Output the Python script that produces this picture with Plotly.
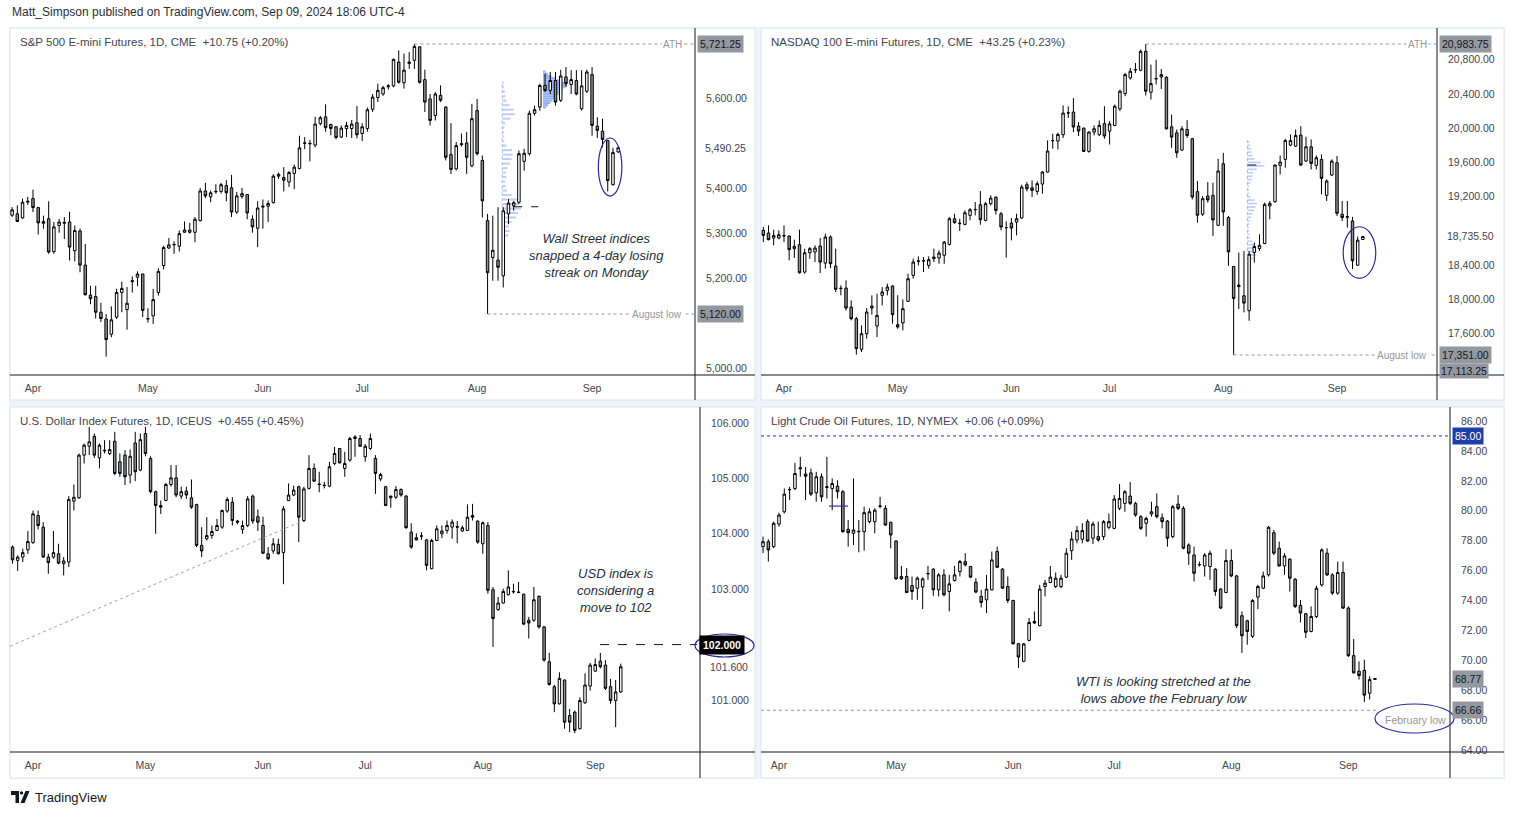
import pandas as pd
import plotly.graph_objects as go

W, H = 1514, 815          # reference pixel frame used for all placements
FIG_H = 819               # the capture squeezes the page height slightly; compensate

# ---------------- calendars ----------------
cme_holidays = ["2024-03-29", "2024-05-27", "2024-06-19", "2024-07-04", "2024-09-02"]
ice_holidays = ["2024-03-29"]
cme_dates = [d for d in pd.bdate_range("2024-03-25", "2024-09-10") if d.strftime("%Y-%m-%d") not in cme_holidays]
ice_dates = [d for d in pd.bdate_range("2024-03-25", "2024-09-09") if d.strftime("%Y-%m-%d") not in ice_holidays]
months = ["Apr", "May", "Jun", "Jul", "Aug", "Sep"]

# ---------------- S&P 500 E-mini (ES) ----------------
es_open = [5340, 5343, 5334, 5369, 5377, 5357, 5322, 5332, 5259, 5317,
           5322, 5325, 5261, 5305, 5229, 5162, 5159, 5124, 5109, 5075,
           5113, 5168, 5130, 5192, 5202, 5209, 5110, 5116, 5168, 5228,
           5267, 5274, 5271, 5302, 5302, 5302, 5328, 5394, 5381, 5392,
           5393, 5406, 5401, 5347, 5382, 5386, 5331, 5311, 5358, 5360,
           5368, 5427, 5424, 5414, 5433, 5444, 5500, 5499, 5496, 5544,
           5559, 5542, 5537, 5514, 5533, 5533, 5546, 5522, 5533, 5576,
           5602, 5610, 5626, 5628, 5681, 5635, 5678, 5685, 5715, 5642,
           5599, 5562, 5607, 5581, 5475, 5443, 5497, 5501, 5450, 5573,
           5462, 5328, 5246, 5240, 5205, 5343, 5361, 5369, 5460, 5477,
           5567, 5581, 5629, 5618, 5640, 5596, 5648, 5631, 5640, 5577,
           5616, 5653, 5538, 5527, 5506, 5408, 5481]
es_high = [5358, 5362, 5377, 5381, 5397, 5358, 5339, 5371, 5325, 5332,
           5336, 5348, 5317, 5310, 5276, 5183, 5183, 5145, 5120, 5137,
           5176, 5192, 5180, 5204, 5215, 5210, 5133, 5176, 5222, 5272,
           5289, 5282, 5306, 5326, 5323, 5336, 5401, 5412, 5395, 5409,
           5412, 5418, 5430, 5392, 5401, 5387, 5340, 5371, 5375, 5373,
           5431, 5435, 5447, 5438, 5453, 5517, 5514, 5508, 5559, 5561,
           5587, 5544, 5538, 5540, 5548, 5552, 5583, 5545, 5580, 5610,
           5633, 5628, 5632, 5689, 5707, 5700, 5703, 5721.25, 5716, 5664,
           5610, 5614, 5629, 5582, 5545, 5503, 5522, 5525, 5588, 5599,
           5473, 5343, 5339, 5358, 5358, 5376, 5372, 5484, 5488, 5573,
           5584, 5633, 5655, 5659, 5659, 5664, 5670, 5663, 5663, 5663,
           5664, 5670, 5558, 5555, 5507, 5490, 5492]
es_low = [5336, 5325, 5332, 5363, 5347, 5297, 5310, 5254, 5254, 5301,
          5287, 5239, 5237, 5213, 5161, 5142, 5110, 5102, 5025, 5068,
          5109, 5124, 5085, 5168, 5182, 5113, 5101, 5098, 5161, 5219,
          5265, 5254, 5259, 5301, 5299, 5280, 5326, 5378, 5369, 5388,
          5388, 5371, 5336, 5343, 5377, 5331, 5301, 5269, 5310, 5325,
          5366, 5421, 5393, 5403, 5398, 5442, 5487, 5460, 5491, 5540,
          5526, 5518, 5509, 5512, 5514, 5512, 5511, 5505, 5526, 5570,
          5592, 5606, 5620, 5625, 5633, 5622, 5666, 5666, 5633, 5570,
          5540, 5551, 5592, 5462, 5432, 5440, 5493, 5432, 5447, 5473,
          5335, 5120, 5194, 5194, 5179, 5320, 5350, 5365, 5439, 5473,
          5562, 5573, 5614, 5610, 5584, 5592, 5625, 5610, 5607, 5573,
          5612, 5517, 5512, 5491, 5393, 5406, 5479]
es_close = [5352, 5326, 5369, 5371, 5357, 5323, 5326, 5258, 5314, 5325,
            5324, 5269, 5306, 5229, 5163, 5154, 5124, 5110, 5063, 5107,
            5168, 5177, 5144, 5194, 5209, 5128, 5109, 5152, 5215, 5268,
            5274, 5275, 5299, 5307, 5307, 5331, 5394, 5383, 5390, 5393,
            5408, 5390, 5347, 5383, 5388, 5345, 5314, 5356, 5360, 5366,
            5427, 5431, 5418, 5435, 5447, 5490, 5501, 5500, 5543, 5557,
            5535, 5533, 5513, 5534, 5540, 5543, 5519, 5537, 5575, 5603,
            5618, 5624, 5628, 5687, 5636, 5663, 5681, 5716, 5636, 5592,
            5551, 5610, 5596, 5469, 5442, 5495, 5499, 5469, 5555, 5477,
            5372, 5212, 5262, 5224, 5350, 5367, 5368, 5477, 5478, 5567,
            5575, 5629, 5618, 5640, 5592, 5650, 5633, 5642, 5610, 5628,
            5659, 5540, 5529, 5509, 5417, 5479.5, 5490.25]

# ---------------- NASDAQ 100 E-mini (NQ) ----------------
nq_open = [18807, 18776, 18717, 18717, 18741, 18741, 18593, 18639, 18320, 18546,
           18554, 18624, 18425, 18729, 18390, 18126, 18133, 17911, 17775, 17417,
           17600, 17900, 17689, 18048, 18106, 18157, 17705, 17725, 17978, 18281,
           18445, 18449, 18398, 18476, 18484, 18516, 18643, 18943, 18885, 18877,
           18982, 19048, 19106, 18924, 19118, 19196, 19001, 18840, 18892, 18904,
           18951, 19340, 19305, 19262, 19348, 19488, 19854, 19850, 19924, 20177,
           20189, 20025, 20002, 19729, 19955, 19924, 20053, 19966, 20032, 20226,
           20405, 20588, 20680, 20677, 20898, 20420, 20575, 20599, 20595, 20016,
           19946, 19745, 19985, 19877, 19259, 18995, 19208, 19216, 18866, 19585,
           18956, 18385, 18150, 18043, 17868, 18548, 18594, 18653, 19092, 19142,
           19566, 19636, 19803, 19791, 19919, 19616, 19783, 19566, 19636, 19216,
           19453, 19597, 18995, 18960, 18917, 18400, 18700]
nq_high = [18846, 18865, 18815, 18807, 18865, 18745, 18698, 18815, 18593, 18612,
           18632, 18717, 18768, 18748, 18593, 18165, 18223, 17989, 17795, 17697,
           17900, 18048, 18067, 18145, 18184, 18165, 18048, 18001, 18301, 18476,
           18503, 18495, 18503, 18593, 18573, 18682, 18962, 19001, 18943, 19040,
           19068, 19138, 19266, 19138, 19216, 19200, 19021, 18912, 18951, 19001,
           19340, 19371, 19391, 19379, 19500, 19858, 19936, 19947, 20267, 20255,
           20352, 20072, 20006, 19963, 20033, 20091, 20258, 20082, 20277, 20451,
           20646, 20704, 20762, 20918, 20983.75, 20743, 20800, 20692, 20607, 20160,
           19985, 20024, 20094, 19888, 19383, 19208, 19371, 19364, 19643, 19713,
           18975, 18390, 18548, 18567, 18567, 18664, 18761, 19131, 19150, 19577,
           19682, 19877, 19927, 19985, 20024, 19900, 19869, 19682, 19694, 19403,
           19636, 19675, 19150, 19150, 18964, 18734, 18740]
nq_low = [18670, 18690, 18632, 18702, 18670, 18456, 18484, 18301, 18301, 18476,
          18437, 18308, 18359, 18367, 18087, 18048, 17872, 17756, 17355, 17386,
          17542, 17822, 17561, 17931, 18048, 17717, 17658, 17639, 17970, 18242,
          18398, 18320, 18359, 18437, 18417, 18417, 18631, 18885, 18799, 18865,
          18924, 18982, 18873, 18912, 19099, 18990, 18807, 18488, 18690, 18748,
          18943, 19262, 19196, 19223, 19235, 19480, 19761, 19753, 19885, 20119,
          19955, 19909, 19722, 19714, 19916, 19909, 19877, 19810, 20024, 20199,
          20374, 20568, 20646, 20665, 20382, 20335, 20510, 20459, 19985, 19772,
          19655, 19733, 19888, 19169, 18897, 18975, 19131, 18742, 18859, 18859,
          18392, 17351, 17887, 17849, 17751, 18431, 18567, 18645, 18936, 19131,
          19461, 19539, 19791, 19783, 19558, 19605, 19519, 19519, 19228, 19150,
          19441, 18975, 18917, 18839, 18354, 18392, 18695]
nq_close = [18748, 18698, 18748, 18756, 18745, 18581, 18620, 18312, 18546, 18593,
            18600, 18437, 18729, 18417, 18118, 18130, 17900, 17775, 17425, 17600,
            17853, 17923, 17814, 18087, 18145, 17822, 17678, 17892, 18242, 18437,
            18449, 18452, 18464, 18495, 18542, 18670, 18943, 18896, 18890, 19013,
            19048, 19050, 18931, 19118, 19184, 19040, 18846, 18838, 18834, 18943,
            19313, 19293, 19274, 19352, 19488, 19733, 19856, 19928, 20177, 20179,
            20014, 19967, 19729, 19955, 19994, 20033, 19909, 20051, 20257, 20432,
            20626, 20665, 20685, 20898, 20432, 20521, 20580, 20626, 19993, 19896,
            19713, 19993, 19915, 19197, 18983, 19177, 19162, 18929, 19500, 19022,
            18556, 18012, 18167, 17957, 18529, 18618, 18633, 19111, 19123, 19570,
            19605, 19857, 19857, 19915, 19570, 19783, 19589, 19655, 19414, 19383,
            19616, 19006, 18956, 18967, 18451, 18692.25, 18735.5]

# ---------------- U.S. Dollar Index futures (DX) ----------------
dx_open = [103.76, 103.52, 103.58, 103.71, 103.84, 104.33, 104.12, 103.58, 103.58, 103.64,
           103.46, 103.49, 104.59, 104.65, 105.42, 105.58, 105.76, 105.37, 105.51, 105.45,
           105.67, 105.30, 105.42, 105.06, 105.64, 105.15, 105.81, 105.36, 104.76, 104.51,
           104.60, 104.89, 105.01, 104.68, 104.77, 104.65, 104.53, 103.79, 103.91, 103.97,
           104.06, 104.12, 104.41, 104.57, 104.23, 104.08, 104.15, 104.68, 104.31, 104.15,
           103.64, 103.69, 103.81, 103.66, 104.60, 104.70, 104.85, 104.24, 104.82, 105.18,
           104.90, 104.88, 104.86, 105.27, 105.54, 105.18, 105.33, 105.72, 105.72, 105.39,
           105.54, 105.36, 104.99, 104.85, 104.65, 104.66, 104.80, 104.68, 104.03, 103.93,
           103.96, 103.89, 103.37, 103.88, 104.00, 104.06, 104.12, 104.13, 104.05, 104.06,
           104.33, 104.23, 103.82, 104.15, 102.99, 102.63, 102.75, 102.90, 102.95, 102.95,
           102.91, 102.44, 102.44, 102.87, 102.32, 101.69, 101.24, 100.93, 101.36, 100.72,
           100.78, 100.48, 100.95, 101.25, 101.52, 101.70, 101.63, 101.24, 100.99, 101.145]
dx_high = [103.79, 103.61, 103.73, 104.05, 104.42, 104.42, 104.21, 103.64, 104.05, 103.82,
           103.58, 104.68, 104.89, 105.45, 105.63, 105.93, 105.81, 105.63, 105.69, 105.69,
           105.84, 105.45, 105.51, 105.52, 105.84, 105.81, 105.93, 105.40, 104.78, 104.60,
           104.92, 105.24, 105.24, 104.85, 104.85, 104.98, 104.54, 104.12, 104.30, 104.15,
           104.27, 104.44, 104.66, 104.66, 104.25, 104.24, 104.68, 104.71, 104.44, 104.31,
           103.76, 103.92, 103.91, 104.50, 104.91, 104.87, 104.87, 104.85, 105.42, 105.27,
           105.12, 104.94, 105.30, 105.57, 105.55, 105.48, 105.75, 105.78, 105.78, 105.62,
           105.81, 105.42, 105.10, 104.86, 104.69, 104.86, 104.82, 104.70, 104.19, 104.01,
           104.03, 103.91, 103.91, 104.15, 104.15, 104.24, 104.26, 104.23, 104.15, 104.53,
           104.54, 104.24, 104.22, 104.21, 103.04, 102.86, 103.01, 103.34, 103.10, 103.13,
           102.92, 102.50, 103.04, 102.89, 102.33, 101.85, 101.27, 101.50, 101.37, 100.84,
           100.81, 101.05, 101.48, 101.67, 101.75, 101.85, 101.72, 101.38, 101.36, 101.656]
dx_low = [103.46, 103.33, 103.49, 103.64, 103.82, 104.08, 103.57, 103.28, 103.55, 103.45,
          103.25, 103.40, 104.42, 104.63, 105.27, 105.42, 105.37, 105.18, 105.45, 105.42,
          105.06, 105.03, 104.88, 104.91, 104.95, 105.13, 105.40, 104.73, 104.00, 104.36,
          104.59, 104.85, 104.66, 104.63, 104.63, 104.45, 103.76, 103.58, 103.88, 103.91,
          104.05, 104.09, 104.38, 104.15, 104.17, 104.00, 104.12, 104.18, 104.05, 103.64,
          103.53, 103.64, 103.63, 103.09, 104.59, 104.68, 103.85, 104.21, 104.80, 104.94,
          104.75, 104.82, 104.84, 105.24, 105.27, 105.03, 105.30, 105.39, 105.57, 105.30,
          105.51, 104.72, 104.95, 104.50, 104.47, 104.63, 104.67, 104.09, 103.73, 103.88,
          103.89, 103.34, 103.36, 103.87, 103.92, 104.00, 103.91, 103.83, 104.03, 104.05,
          104.24, 103.82, 103.64, 102.92, 101.96, 102.61, 102.74, 102.89, 102.92, 102.93,
          102.35, 102.11, 102.41, 102.29, 101.69, 101.26, 100.78, 100.92, 100.48, 100.42,
          100.40, 100.47, 100.93, 101.17, 101.51, 101.57, 101.18, 100.93, 100.51, 101.127]
dx_close = [103.53, 103.58, 103.66, 103.86, 104.36, 104.15, 103.58, 103.48, 103.66, 103.47,
            103.51, 104.62, 104.66, 105.42, 105.60, 105.66, 105.42, 105.60, 105.50, 105.52,
            105.09, 105.09, 105.03, 105.40, 105.12, 105.70, 105.45, 104.76, 104.51, 104.48,
            104.89, 105.01, 104.70, 104.76, 104.70, 104.48, 103.79, 103.69, 103.97, 104.04,
            104.15, 104.42, 104.62, 104.24, 104.21, 104.15, 104.63, 104.23, 104.21, 103.65,
            103.55, 103.82, 103.64, 104.45, 104.70, 104.79, 104.30, 104.81, 105.18, 104.95,
            104.89, 104.87, 105.21, 105.45, 105.28, 105.27, 105.72, 105.75, 105.58, 105.58,
            105.72, 105.09, 105.07, 104.51, 104.68, 104.80, 104.70, 104.11, 103.76, 103.89,
            103.96, 103.43, 103.88, 104.09, 104.05, 104.15, 104.21, 104.12, 104.11, 104.30,
            104.30, 103.85, 104.20, 102.98, 102.47, 102.75, 102.96, 103.04, 102.96, 102.94,
            102.37, 102.39, 102.81, 102.32, 101.72, 101.28, 100.93, 101.39, 100.60, 100.60,
            100.45, 100.99, 101.27, 101.63, 101.64, 101.60, 101.21, 100.99, 101.145, 101.600]

# ---------------- Light Crude Oil futures (CL) ----------------
cl_open = [77.20, 77.60, 77.93, 77.60, 79.11, 79.93, 81.40, 81.49, 82.80, 82.45,
           82.53, 81.20, 82.27, 81.55, 81.49, 81.64, 81.27, 78.76, 78.49, 78.62,
           78.60, 79.27, 79.27, 80.30, 80.16, 79.22, 77.97, 75.60, 75.60, 75.00,
           74.82, 74.90, 75.78, 76.09, 74.71, 75.71, 74.60, 75.33, 75.93, 76.60,
           76.27, 75.22, 74.27, 74.04, 74.71, 77.27, 76.09, 74.93, 74.00, 71.11,
           69.93, 71.33, 72.60, 72.31, 74.93, 75.20, 74.93, 74.93, 75.56, 77.33,
           78.04, 78.09, 79.27, 78.16, 78.27, 78.27, 78.89, 78.82, 80.16, 80.49,
           80.98, 80.49, 79.60, 79.16, 79.78, 80.27, 79.53, 79.31, 78.27, 80.44,
           80.16, 77.71, 77.04, 76.38, 76.31, 76.27, 76.09, 74.76, 74.53, 76.67,
           75.64, 72.98, 72.64, 71.60, 74.22, 74.82, 75.71, 78.53, 77.49, 76.31,
           76.76, 75.42, 73.67, 73.11, 71.93, 72.93, 75.04, 77.16, 75.71, 74.49,
           75.87, 73.49, 70.31, 69.27, 69.33, 67.80, 68.72]
cl_high = [77.90, 78.27, 78.09, 79.27, 79.87, 81.49, 81.60, 83.20, 83.60, 82.93,
           82.82, 82.60, 82.49, 83.60, 82.16, 82.04, 81.38, 79.38, 82.16, 79.38,
           80.27, 80.16, 80.16, 80.93, 80.38, 79.27, 78.04, 76.31, 76.16, 75.60,
           75.60, 75.55, 76.31, 76.16, 75.82, 76.09, 75.71, 76.31, 76.71, 77.16,
           76.31, 75.49, 74.71, 75.71, 77.27, 77.60, 76.16, 75.60, 74.04, 71.16,
           71.16, 72.82, 73.27, 75.04, 75.38, 76.31, 75.87, 75.71, 77.49, 78.60,
           78.98, 79.16, 79.42, 79.27, 79.27, 79.38, 79.82, 81.04, 81.78, 81.38,
           81.93, 80.60, 79.71, 79.60, 80.60, 81.16, 79.82, 79.38, 80.38, 81.04,
           80.31, 77.82, 77.60, 76.60, 77.16, 77.33, 76.16, 74.82, 77.42, 77.42,
           75.71, 73.27, 72.71, 74.09, 75.04, 75.93, 78.98, 78.71, 77.93, 77.16,
           76.82, 75.49, 74.04, 73.16, 73.60, 74.98, 77.49, 77.49, 75.82, 76.60,
           76.60, 73.60, 71.42, 69.93, 70.04, 68.93, 68.80]
cl_low = [76.90, 77.16, 76.60, 77.49, 78.93, 79.82, 80.71, 81.38, 82.27, 80.71,
          80.98, 80.60, 80.60, 80.82, 80.04, 80.82, 78.53, 77.60, 77.71, 77.22,
          77.33, 79.16, 78.49, 80.16, 79.00, 77.49, 75.38, 75.38, 74.49, 74.04,
          74.04, 73.42, 75.38, 74.31, 74.27, 74.27, 73.27, 75.27, 75.60, 76.27,
          75.49, 74.49, 73.53, 73.16, 74.67, 76.16, 74.76, 73.82, 71.04, 69.49,
          69.87, 71.27, 72.44, 72.27, 74.27, 75.16, 74.82, 74.82, 75.49, 76.71,
          77.82, 77.82, 77.93, 77.78, 77.93, 78.04, 78.76, 78.76, 80.04, 79.93,
          80.38, 79.60, 78.71, 78.27, 79.60, 79.49, 78.82, 77.60, 78.16, 80.04,
          77.42, 76.38, 75.27, 76.27, 75.60, 75.38, 74.31, 73.42, 74.49, 75.56,
          72.16, 70.49, 71.04, 71.49, 73.42, 74.76, 75.60, 77.04, 76.27, 75.71,
          74.60, 73.49, 72.53, 71.49, 71.87, 72.82, 74.93, 75.64, 74.38, 74.38,
          73.42, 70.22, 69.11, 68.71, 67.20, 67.38, 68.70]
cl_close = [77.60, 77.93, 77.38, 79.16, 79.71, 81.11, 81.42, 82.49, 82.87, 82.31,
            81.11, 82.27, 80.93, 81.60, 81.82, 81.27, 78.60, 78.53, 78.71, 78.60,
            79.87, 79.93, 80.04, 80.31, 79.04, 78.38, 75.44, 75.44, 74.53, 74.60,
            75.49, 75.44, 75.80, 74.71, 75.71, 74.38, 75.11, 75.71, 76.60, 76.38,
            75.56, 74.56, 73.87, 74.76, 76.71, 76.22, 74.82, 74.00, 71.11, 70.22,
            71.09, 72.53, 72.49, 74.76, 75.16, 75.56, 75.49, 75.49, 77.16, 78.11,
            78.67, 78.67, 77.97, 79.11, 78.04, 79.27, 79.27, 80.78, 80.82, 81.27,
            80.49, 79.71, 78.82, 79.49, 79.93, 79.60, 79.27, 78.16, 80.27, 80.16,
            77.49, 77.16, 75.82, 76.40, 77.04, 77.16, 74.60, 73.49, 76.67, 75.64,
            72.31, 71.64, 71.93, 74.00, 74.93, 75.64, 78.89, 77.16, 76.31, 76.98,
            75.49, 73.60, 73.16, 71.87, 72.93, 74.82, 77.38, 75.71, 74.49, 75.87,
            73.49, 70.31, 69.16, 68.98, 67.67, 68.71, 68.77]

# ---------------- volume profiles (drawings) ----------------
es_vp1_levels = [5295, 5305, 5315, 5325, 5335, 5345, 5355, 5365, 5375, 5385, 5395, 5405,
                 5415, 5425, 5435, 5445, 5455, 5465, 5475, 5485, 5495, 5505, 5515, 5525,
                 5535, 5545, 5555, 5565, 5575, 5585, 5595, 5605, 5615, 5625, 5635]
es_vp1_size = [1.2, 1.4, 1.3, 1.8, 2.6, 3.0, 3.6, 3.2, 2.8, 1.8, 0.9, 0.7,
               0.6, 0.8, 0.7, 1.0, 1.5, 1.8, 2.0, 1.9, 0.8, 0.4, 0.3, 0.3,
               0.4, 0.6, 1.6, 2.4, 2.2, 1.4, 0.8, 0.6, 0.5, 0.4, 0.3]
es_vp2_levels = [5580, 5585, 5590, 5595, 5600, 5605, 5610, 5615, 5620, 5625, 5630,
                 5635, 5640, 5645, 5650, 5655, 5660]
es_vp2_size = [0.6, 1.0, 1.4, 1.8, 2.2, 2.6, 3.0, 3.4, 3.8, 4.2, 4.6, 4.0, 3.2, 2.4, 1.6, 1.0, 0.5]
nq_vp_levels = [18440, 18480, 18520, 18560, 18600, 18640, 18680, 18720, 18760, 18800, 18840, 18880,
                18920, 18960, 19000, 19040, 19080, 19120, 19160, 19200, 19240, 19280, 19320, 19360,
                19400, 19440, 19480, 19520, 19560, 19600, 19640, 19680, 19720, 19760, 19800, 19840]
nq_vp_size = [0.6, 1.2, 1.6, 1.8, 1.7, 1.4, 1.0, 0.5, 0.4, 0.3, 0.3, 0.4,
              0.5, 0.7, 1.0, 1.3, 1.6, 1.9, 1.4, 0.6, 0.3, 0.3, 0.4, 0.6,
              0.9, 1.0, 1.1, 1.8, 3.3, 2.6, 1.4, 1.0, 0.8, 0.7, 0.5, 0.4]

# ---------------- helpers ----------------
def positions(dates):
    return [i - 4 for i in range(len(dates))]

def month_ticks(dates):
    vals, seen = [], set()
    for i, d in enumerate(dates):
        if d.month >= 4 and d.month not in seen:
            seen.add(d.month)
            vals.append(i - 4)
    return vals

cme_x = positions(cme_dates)
ice_x = positions(ice_dates)
cme_ticks = month_ticks(cme_dates)
ice_ticks = month_ticks(ice_dates)

FONT = "Liberation Sans"
TXT = "#131722"
AX = "#434651"
GREY_LINE = "#9598a1"
NAVY = "#2a2a9c"

fig = go.Figure()

def add_candles(x, o, h, l, c, xa, ya):
    fig.add_trace(go.Candlestick(
        x=x, open=o, high=h, low=l, close=c, xaxis=xa, yaxis=ya,
        increasing=dict(line=dict(color="#000000", width=1), fillcolor="#ffffff"),
        decreasing=dict(line=dict(color="#000000", width=1), fillcolor="#8c8f97"),
        whiskerwidth=0, showlegend=False, hoverinfo="skip"))

def add_profile(levels, sizes, base, thick, color, xa, ya):
    fig.add_trace(go.Bar(y=levels, x=sizes, base=base, orientation="h", width=thick,
                         marker=dict(color=color, line=dict(width=0)),
                         xaxis=xa, yaxis=ya, showlegend=False, hoverinfo="skip"))

add_profile(es_vp1_levels, es_vp1_size, 89.8, 4.6, "rgba(110,150,235,0.45)", "x", "y")
add_profile(nq_vp_levels, nq_vp_size, 89.65, 20, "rgba(110,150,235,0.45)", "x2", "y2")

add_candles(cme_x, es_open, es_high, es_low, es_close, "x", "y")
add_candles(cme_x, nq_open, nq_high, nq_low, nq_close, "x2", "y2")
add_candles(ice_x, dx_open, dx_high, dx_low, dx_close, "x3", "y3")
add_candles(cme_x, cl_open, cl_high, cl_low, cl_close, "x4", "y4")

# the darker profile is drawn over the candles, as in the reference
add_profile(es_vp2_levels, es_vp2_size, 97.6, 4.6, "rgba(60,115,230,0.55)", "x", "y")

# panel geometry in reference pixels
P = {
    1: dict(x0=10, x1=695, y0=28, y1=375, ox1=755, oy1=400, xr=[-4.40, 126.7], yr=[4984.2, 5756.9]),
    2: dict(x0=761, x1=1437, y0=28, y1=375, ox1=1504, oy1=400, xr=[-4.45, 126.35], yr=[17117.4, 21170.6]),
    3: dict(x0=10, x1=700, y0=407, y1=752, ox1=755, oy1=778, xr=[-4.5, 130.5], yr=[100.061, 106.289]),
    4: dict(x0=761, x1=1450, y0=407, y1=752, ox1=1504, oy1=778, xr=[-3.38, 126.1], yr=[63.867, 86.936]),
}
ytick = {
    1: ([5000, 5200, 5300, 5400, 5600], ",.2f"),
    2: ([17600, 18000, 18400, 19200, 19600, 20000, 20400, 20800], ",.2f"),
    3: ([101, 103, 104, 105, 106], ".3f"),
    4: ([64, 66, 68, 70, 72, 74, 76, 78, 80, 82, 84, 86], ".2f"),
}
xt = {1: cme_ticks, 2: cme_ticks, 3: ice_ticks, 4: cme_ticks}

layout_axes = {}
for n, p in P.items():
    sx = "" if n == 1 else str(n)
    layout_axes["xaxis" + sx] = dict(
        domain=[p["x0"] / W, p["x1"] / W], anchor="y" + sx, range=p["xr"],
        showgrid=False, zeroline=False, showline=False, ticks="",
        tickvals=xt[n], ticktext=months, ticklabelstandoff=5,
        tickfont=dict(family=FONT, size=10.5, color=AX),
        rangeslider=dict(visible=False), fixedrange=True)
    layout_axes["yaxis" + sx] = dict(
        domain=[1 - p["y1"] / H, 1 - p["y0"] / H], anchor="x" + sx, side="right",
        range=p["yr"], showgrid=False, zeroline=False, showline=False, ticks="",
        tickvals=ytick[n][0], tickformat=ytick[n][1], ticklabelstandoff=10,
        tickfont=dict(family=FONT, size=10.5, color=AX), fixedrange=True)

shapes = []
anns = []

def prect(x0, y0, x1, y1, fill, line=None, layer="below"):
    shapes.append(dict(type="rect", xref="paper", yref="paper", x0=x0 / W, x1=x1 / W,
                       y0=1 - y1 / H, y1=1 - y0 / H, fillcolor=fill,
                       line=line if line else dict(width=0), layer=layer))

def pline(x0, y0, x1, y1, color, width=1, dash="solid", layer="above"):
    shapes.append(dict(type="line", xref="paper", yref="paper", x0=x0 / W, y0=1 - y0 / H,
                       x1=x1 / W, y1=1 - y1 / H, line=dict(color=color, width=width, dash=dash),
                       layer=layer))

def hline(xref, yref, x0, x1, yv, color, dash="dot", width=1):
    shapes.append(dict(type="line", xref=xref, yref=yref, x0=x0, x1=x1, y0=yv, y1=yv,
                       line=dict(color=color, width=width, dash=dash), layer="above"))

def text(x, y, s, size=11, color=TXT, xanchor="left", yanchor="middle", yref="paper",
         bg=None, pad=1, family=FONT, align="left"):
    a = dict(x=x / W, y=(1 - y / H) if yref == "paper" else y, xref="paper", yref=yref,
             text=s, showarrow=False, xanchor=xanchor, yanchor=yanchor, align=align,
             font=dict(family=family, size=size, color=color), borderpad=pad)
    if bg:
        a["bgcolor"] = bg
    anns.append(a)

# page / panel backgrounds
prect(9, 27, 1505, 779, "#f0f3fa")
for n, p in P.items():
    prect(p["x0"], p["y0"], p["ox1"], p["oy1"], "#ffffff", line=dict(color="#e0e3eb", width=1))
    pline(p["x1"], p["y0"], p["x1"], p["oy1"], "#131722", 1)
    pline(p["x0"], p["y1"], p["ox1"], p["y1"], "#131722", 1)

# ---- ES drawings ----
hline("x", "y", 73, P[1]["xr"][1], 5721.25, GREY_LINE)
hline("x", "y", 87, P[1]["xr"][1], 5120.0, GREY_LINE)
hline("x", "y", 91.9, 96.7, 5358.9, "#131722", dash="dash")
shapes.append(dict(type="line", xref="x", yref="y", x0=89.8, x1=89.8, y0=5291, y1=5635,
                   line=dict(color="rgba(110,150,235,0.6)", width=1, dash="dot"), layer="above"))
shapes.append(dict(type="circle", xref="x", yref="y", x0=108.2, x1=112.7, y0=5382.7, y1=5511.9,
                   line=dict(color=NAVY, width=1.2), layer="above"))
# ---- NQ drawings ----
hline("x2", "y2", 70, P[2]["xr"][1], 20983.75, GREY_LINE)
hline("x2", "y2", 87, P[2]["xr"][1], 17351.0, GREY_LINE)
hline("x2", "y2", 89.65, 92.8, 19570, "#131722", dash="dash")
shapes.append(dict(type="line", xref="x2", yref="y2", x0=89.65, x1=89.65, y0=18426, y1=19862,
                   line=dict(color="rgba(110,150,235,0.6)", width=1, dash="dot"), layer="above"))
shapes.append(dict(type="circle", xref="x2", yref="y2", x0=108.2, x1=114.5, y0=18247, y1=18849,
                   line=dict(color=NAVY, width=1.2), layer="above"))
# ---- DX drawings ----
shapes.append(dict(type="line", xref="x3", yref="y3", x0=-4.5, x1=52.2, y0=101.97, y1=104.21,
                   line=dict(color="#a0a3ab", width=1, dash="dot"), layer="above"))
hline("paper", "y3", 600 / W, 697 / W, 102.0, "#131722", dash="dash")
shapes.append(dict(type="circle", xref="paper", yref="paper", x0=695 / W, x1=754 / W,
                   y0=1 - 657 / H, y1=1 - 634 / H, line=dict(color=NAVY, width=1.2), layer="above"))
# ---- CL drawings ----
hline("paper", "y4", 761 / W, 1450 / W, 85.0, "#1c3fa8", dash="dot")
hline("paper", "y4", 761 / W, 1378 / W, 66.66, GREY_LINE, dash="dot")
hline("x4", "y4", 9.4, 13.0, 80.31, "#2a3a9c", dash="solid", width=1.2)
shapes.append(dict(type="circle", xref="paper", yref="paper", x0=1375 / W, x1=1454 / W,
                   y0=1 - 733 / H, y1=1 - 704 / H, line=dict(color=NAVY, width=1.2), layer="above"))

# ---- TradingView logo ----
shapes.append(dict(type="path", xref="paper", yref="paper", layer="above",
                   path="M {} {} L {} {} L {} {} L {} {} L {} {} L {} {} Z".format(
                       11 / W, 1 - 791 / H, 19 / W, 1 - 791 / H, 19 / W, 1 - 803 / H,
                       15.5 / W, 1 - 803 / H, 15.5 / W, 1 - 795 / H, 11 / W, 1 - 795 / H),
                   fillcolor="#131722", line=dict(width=0)))
shapes.append(dict(type="circle", xref="paper", yref="paper", layer="above",
                   x0=19.8 / W, x1=23.2 / W, y0=1 - 794.6 / H, y1=1 - 791.2 / H,
                   fillcolor="#131722", line=dict(width=0)))
shapes.append(dict(type="path", xref="paper", yref="paper", layer="above",
                   path="M {} {} L {} {} L {} {} L {} {} Z".format(
                       25.5 / W, 1 - 791 / H, 29.5 / W, 1 - 791 / H, 24.5 / W, 1 - 803 / H,
                       20.5 / W, 1 - 803 / H),
                   fillcolor="#131722", line=dict(width=0)))

# ---------------- texts ----------------
text(10, 12, "Matt_Simpson published on TradingView.com, Sep 09, 2024 18:06 UTC-4", size=12, color="#2a2e39")
text(18, 42, "S&amp;P 500 E-mini Futures, 1D, CME \u00a0+10.75 (+0.20%)", size=11.5, color=AX)
text(769, 42, "NASDAQ 100 E-mini Futures, 1D, CME \u00a0+43.25 (+0.23%)", size=11.5, color=AX)
text(18, 421, "U.S. Dollar Index Futures, 1D, ICEUS \u00a0+0.455 (+0.45%)", size=11.5, color=AX)
text(769, 421, "Light Crude Oil Futures, 1D, NYMEX \u00a0+0.06 (+0.09%)", size=11.5, color=AX)
text(33, 797, "TradingView", size=13, color="#131722")

note = "#2a2e39"
text(596, 256, "<i>Wall Street indices<br>snapped a 4-day losing<br>streak on Monday</i>", size=13,
     color=note, xanchor="center", align="center")
text(615, 590, "<i>USD index is<br>considering a<br>move to 102</i>", size=13,
     color=note, xanchor="center", align="center")
text(1163, 690, "<i>WTI is looking stretched at the<br>lows above the February low</i>", size=13,
     color=note, xanchor="center", align="center")

# line captions
text(684, 5721.25, "ATH", size=10, color=GREY_LINE, xanchor="right", yref="y", bg="#ffffff")
text(684, 5120.0, "August low", size=10, color=GREY_LINE, xanchor="right", yref="y", bg="#ffffff")
text(1429, 20983.75, "ATH", size=10, color=GREY_LINE, xanchor="right", yref="y2", bg="#ffffff")
text(1429, 17351.0, "August low", size=10, color=GREY_LINE, xanchor="right", yref="y2", bg="#ffffff")
text(1415, 720, "February low", size=10.5, color=GREY_LINE, xanchor="center")

# price-scale labels
LAB = "#9598a1"
text(697, 5721.25, "5,721.25", size=10.5, color=TXT, yref="y", bg=LAB, pad=2)
text(703, 5490.25, "5,490.25", size=10.5, color=AX, yref="y", bg="#ffffff", pad=1)
text(697, 5120.0, "5,120.00", size=10.5, color=TXT, yref="y", bg=LAB, pad=2)
text(1439, 20983.75, "20,983.75", size=10.5, color=TXT, yref="y2", bg=LAB, pad=2)
text(1445, 18735.5, "18,735.50", size=10.5, color=AX, yref="y2", bg="#ffffff", pad=1)
text(1439, 17351.0, "17,351.00", size=10.5, color=TXT, yref="y2", bg=LAB, pad=2)
text(1439, 17165.0, "17,113.25", size=10.5, color=TXT, yref="y2", bg=LAB, pad=1)
text(699, 102.0, "<b>102.000</b>", size=10.5, color="#ffffff", yref="y3", bg="#000000", pad=3)
text(708, 101.6, "101.600", size=10.5, color=AX, yref="y3", bg="#ffffff", pad=1)
text(1452, 85.0, "85.00", size=10.5, color="#ffffff", yref="y4", bg="#1c3fa8", pad=2)
text(1452, 68.77, "68.77", size=10.5, color=TXT, yref="y4", bg=LAB, pad=2)
text(1452, 66.66, "66.66", size=10.5, color=TXT, yref="y4", bg=LAB, pad=2)

fig.update_layout(
    width=W, height=FIG_H, autosize=False,
    margin=dict(l=0, r=0, t=0, b=0),
    paper_bgcolor="#ffffff", plot_bgcolor="rgba(0,0,0,0)",
    showlegend=False, barmode="overlay", boxgap=0.32,
    shapes=shapes, annotations=anns,
    font=dict(family=FONT, color=TXT),
    **layout_axes)

fig.write_html("out.html", config={"displayModeBar": False},
               post_script="document.body.style.margin='0px';document.body.style.overflow='hidden';")
